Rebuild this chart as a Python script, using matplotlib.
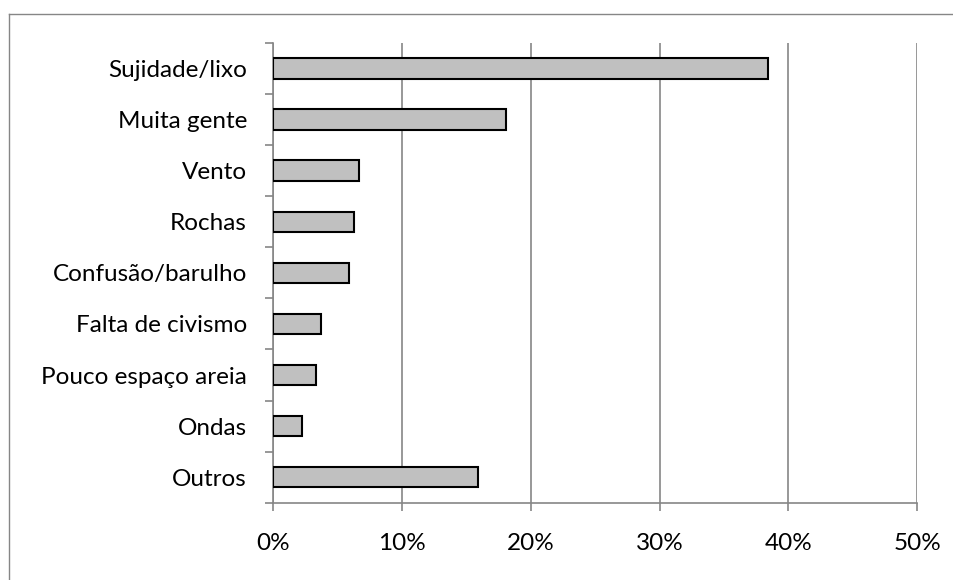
import matplotlib
matplotlib.use("Agg")
import matplotlib.pyplot as plt
from matplotlib.lines import Line2D
from matplotlib.ticker import FixedLocator, PercentFormatter

categories = ["Sujidade/lixo", "Muita gente", "Vento", "Rochas", "Confusão/barulho",
              "Falta de civismo", "Pouco espaço areia", "Ondas", "Outros"]
values = [38.4, 18.1, 6.7, 6.3, 5.9, 3.7, 3.3, 2.25, 15.9]
xticks = [0, 10, 20, 30, 40, 50]

plt.rcParams['font.family'] = ['Lato', 'DejaVu Sans']
W, H = 954, 580
fig = plt.figure(figsize=(W/100, H/100), dpi=100)
ax = fig.add_axes([273/W, 1 - 502.7/H, (917.3-273)/W, (502.7-43)/H])

gray = '#868686'
pos = list(range(len(categories)))
ax.barh(pos, values, height=0.4, color='#C0C0C0', edgecolor='black', linewidth=1.5, zorder=3)
ax.set_xlim(0, 50)
ax.set_ylim(len(categories) - 0.5, -0.5)
ax.set_xticks(xticks)
ax.xaxis.set_major_formatter(PercentFormatter(decimals=0))
ax.set_yticks(pos)
ax.set_yticklabels(categories)
ax.yaxis.set_minor_locator(FixedLocator([i - 0.5 for i in range(len(categories) + 1)]))
ax.tick_params(axis='y', which='major', length=0, pad=18.7, labelsize=17.5)
ax.tick_params(axis='y', which='minor', length=5.8, width=1.2, color=gray, direction='out')
ax.tick_params(axis='x', which='major', length=5.8, width=1.2, color=gray, pad=16, labelsize=17.5)
ax.grid(axis='x', color=gray, linewidth=1.2, zorder=0)
for s in ['top', 'right']:
    ax.spines[s].set_visible(False)
for s in ['left', 'bottom']:
    ax.spines[s].set_color(gray)
    ax.spines[s].set_linewidth(1.2)

fig.add_artist(Line2D([9.3/W, 9.3/W], [0, 1 - 13.5/H], color=gray, linewidth=1.0, transform=fig.transFigure))
fig.add_artist(Line2D([9.3/W, 1], [1 - 13.5/H, 1 - 13.5/H], color=gray, linewidth=1.0, transform=fig.transFigure))

fig.savefig("out.png", dpi=100)
